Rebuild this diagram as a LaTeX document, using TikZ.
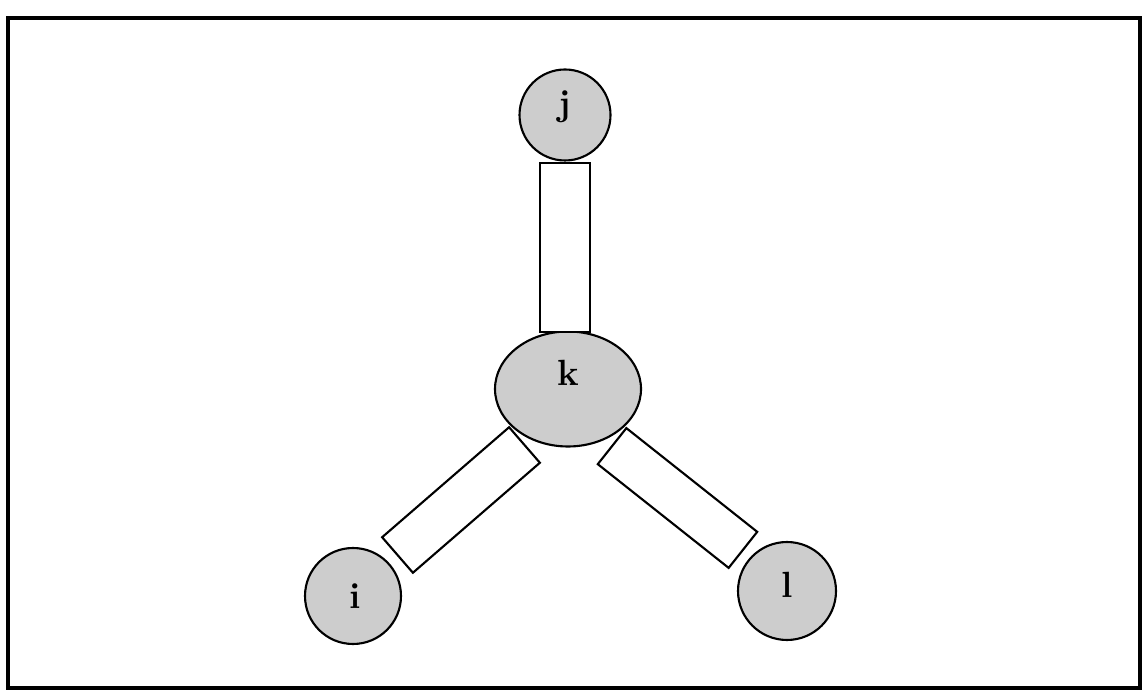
\documentclass[tikz,border=0pt]{standalone}
\usepackage{tikz}
\usepackage{xcolor}
\usetikzlibrary{shapes.geometric}
\definecolor{atomgray}{RGB}{205,205,205}

\begin{document}
\begin{tikzpicture}[line width=1.2pt, atomlabel/.style={font=\huge\bfseries, inner sep=0pt}]
    \useasboundingbox (0,0) rectangle (22.84,13.92);
    \draw[line width=1.8pt] (0.16,0.16) rectangle (22.80,13.56);
    % atoms
    \node[draw, circle, fill=atomgray, minimum size=1.82cm, inner sep=0pt] (j) at (11.30,11.62) {};
    \node[draw, ellipse, fill=atomgray, minimum width=2.92cm, minimum height=2.30cm, inner sep=0pt] (k) at (11.36,6.14) {};
    \node[draw, circle, fill=atomgray, minimum size=1.92cm, inner sep=0pt] (i) at (7.06,2.00) {};
    \node[draw, circle, fill=atomgray, minimum size=1.96cm, inner sep=0pt] (l) at (15.74,2.10) {};
    \node[atomlabel] (jlab) at ([yshift=0.16cm]j) {j};
    \node[atomlabel] (klab) at ([yshift=0.32cm]k) {k};
    \node[atomlabel] (ilab) at ([xshift=0.04cm]i) {i};
    \node[atomlabel] (llab) at ([yshift=0.12cm]l) {l};
    % bonds
    \node[draw, fill=white, minimum width=1.0cm, minimum height=3.38cm] (jk) at (11.30,8.97) {};
    \node[draw, fill=white, rotate=40.9, minimum width=3.36cm, minimum height=0.94cm] (ki) at (9.22,3.92) {};
    \node[draw, fill=white, rotate=-38.4, minimum width=3.34cm, minimum height=0.92cm] (kl) at (13.55,3.96) {};
\end{tikzpicture}
\end{document}
